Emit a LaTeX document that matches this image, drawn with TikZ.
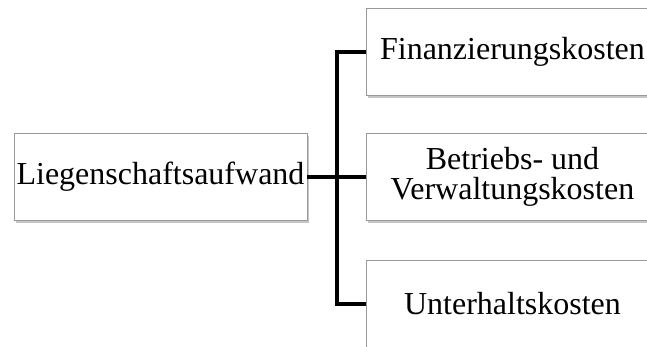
\documentclass[tikz,border=0pt]{standalone}
\usepackage{fontspec}
\setmainfont{Liberation Serif}
\usetikzlibrary{shadows, positioning}
\tikzset{kostenbox/.style={rectangle, draw=gray!80, line width=0.8pt, fill=white, minimum width=293pt, minimum height=87pt, inner sep=0pt, align=center, font=\fontsize{32}{29.5}\selectfont, drop shadow={shadow xshift=1.5pt, shadow yshift=-2.5pt, opacity=0.45}},astline/.style={draw=black, line width=4pt, line join=miter}}

\begin{document}
\begin{tikzpicture}
        \useasboundingbox (0pt, 0pt) rectangle (647pt, 346pt);
        \clip (0pt, 0pt) rectangle (647pt, 346pt);
        % Boxes
        \node[kostenbox] (aufwand) at (160.5pt, 169pt) {Liegenschaftsaufwand};
        \node[kostenbox] (finanz) at (512.5pt, 294pt) {Finanzierungskosten};
        \node[kostenbox] (betrieb) at (512.5pt, 169pt) {Betriebs- und\\Verwaltungskosten};
        \node[kostenbox] (unterhalt) at (512.5pt, 42pt) {Unterhaltskosten};
        % Connectors
        \coordinate (gabel) at (337pt, 169pt);
        \draw[astline] (aufwand.east) -- (gabel);
        \draw[astline] (gabel) |- (finanz.west);
        \draw[astline] (gabel) |- (betrieb.west);
        \draw[astline] (gabel) |- (unterhalt.west);
    \end{tikzpicture}
\end{document}
